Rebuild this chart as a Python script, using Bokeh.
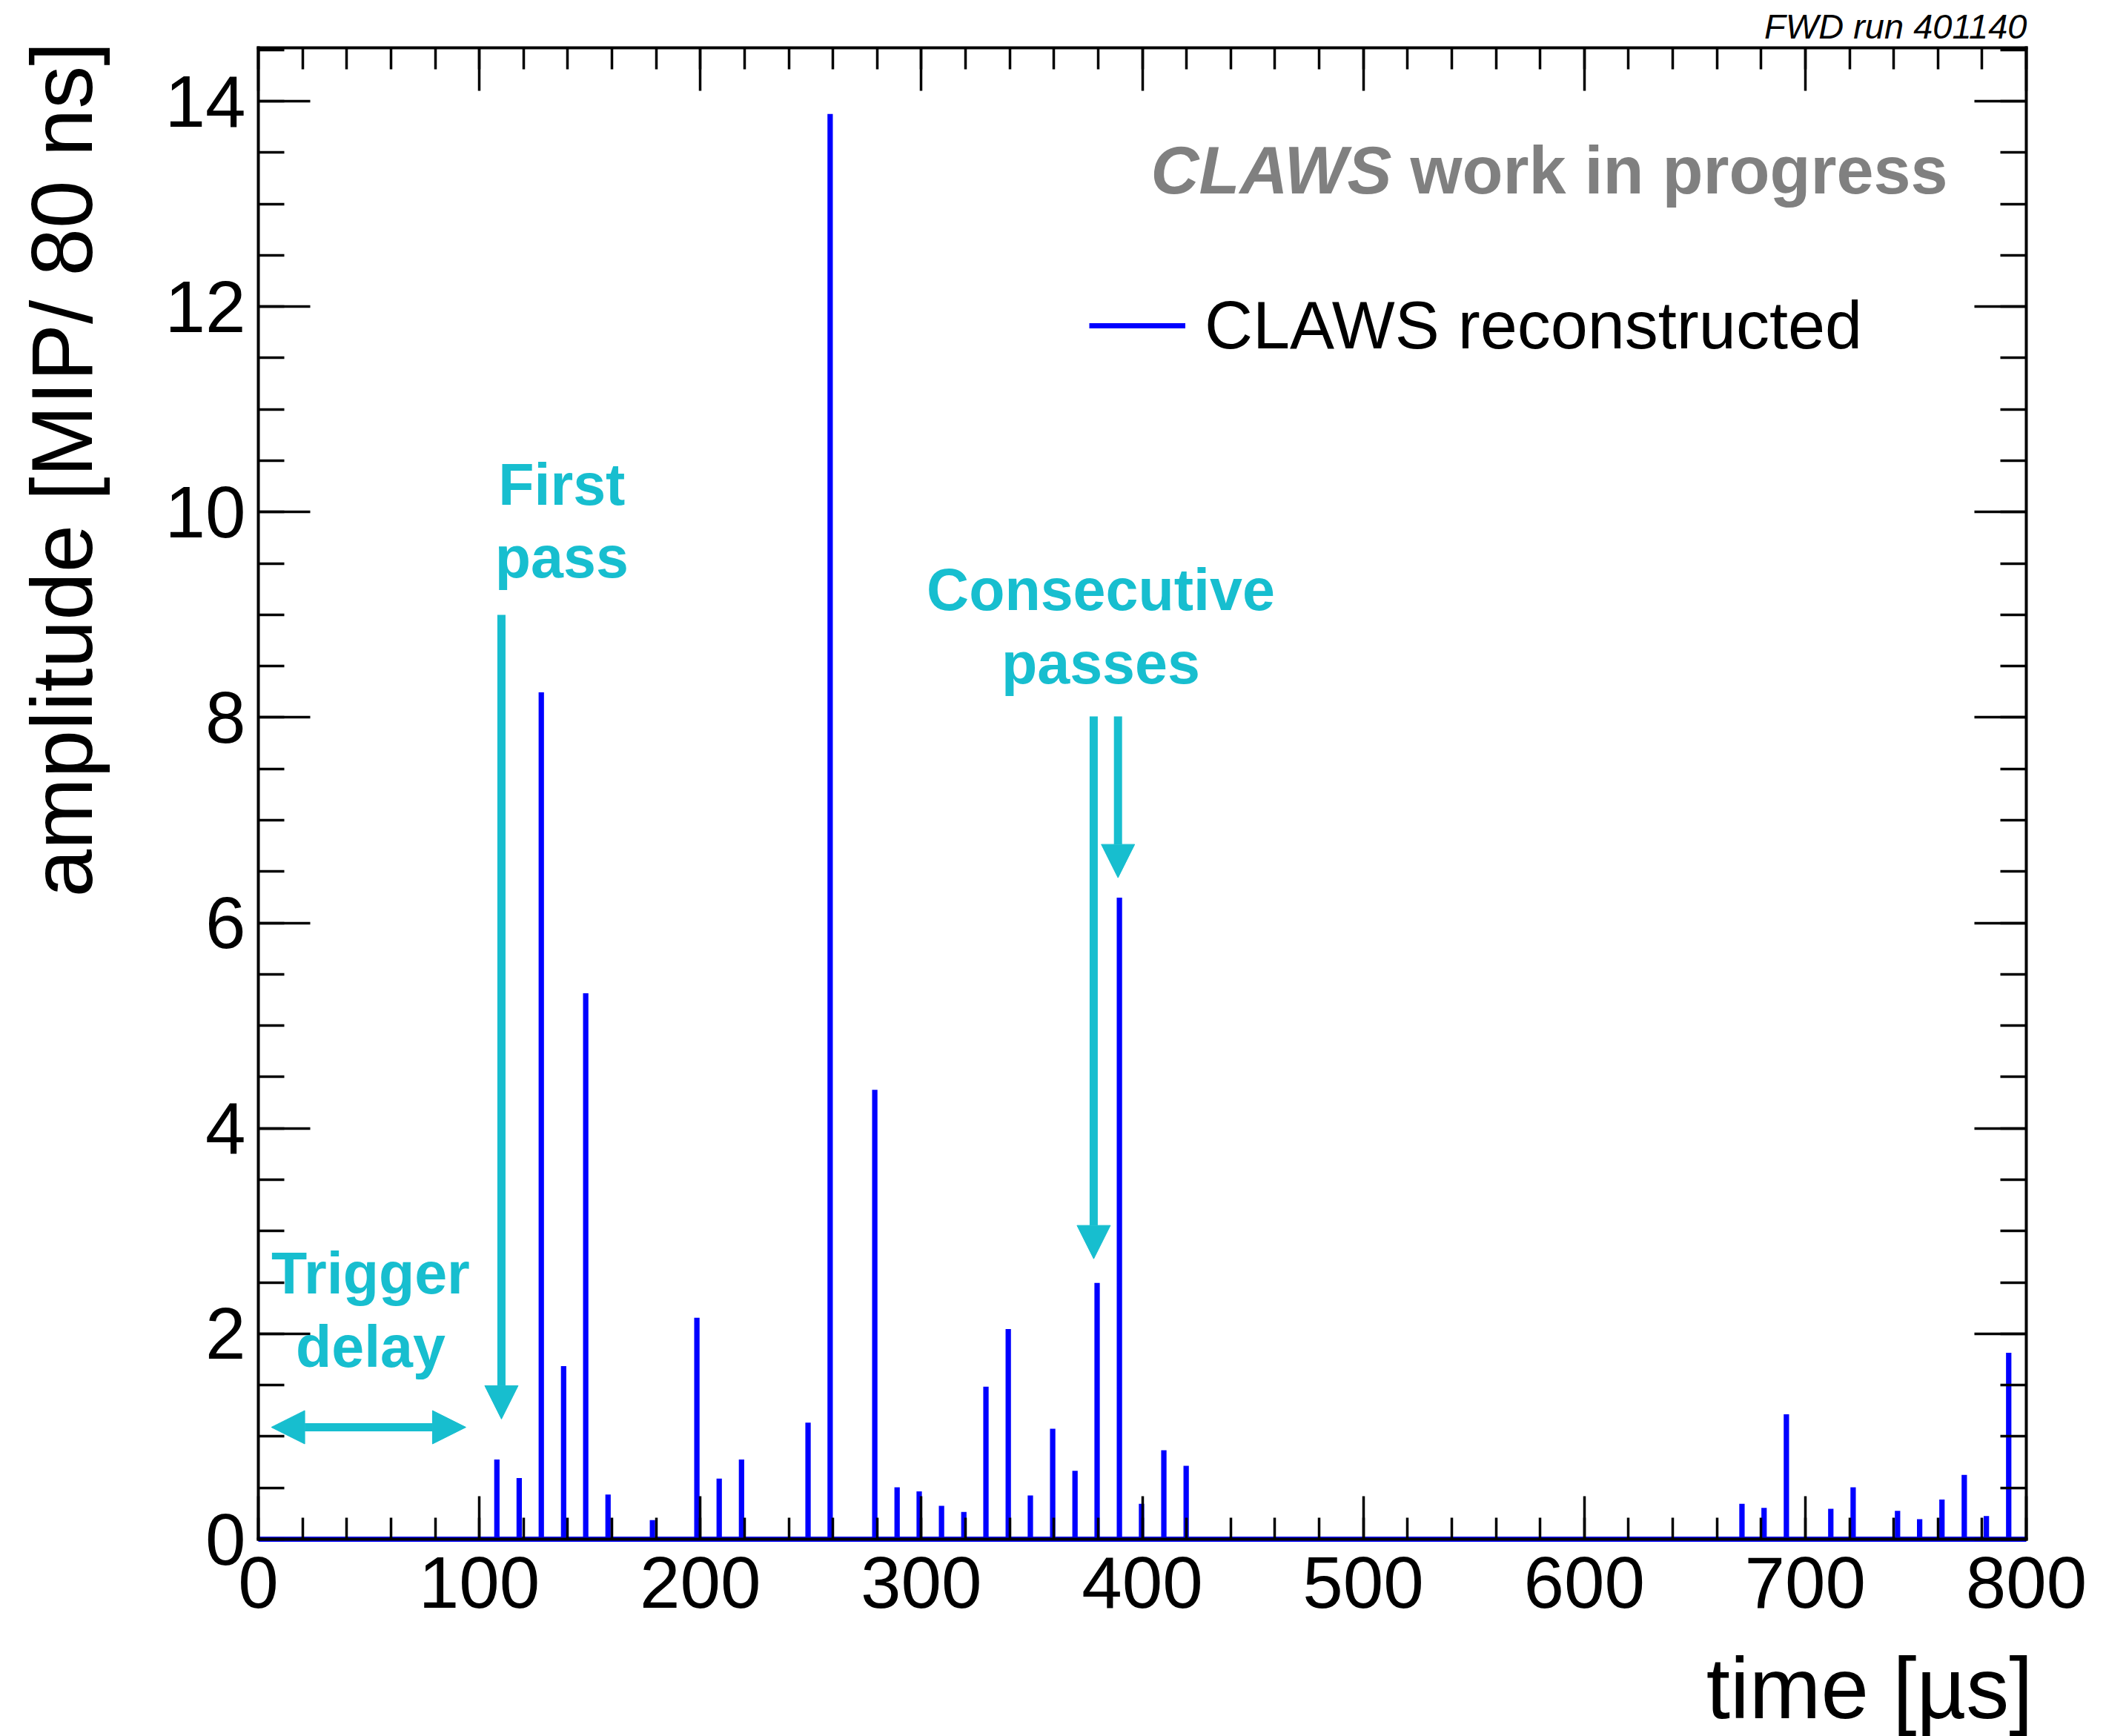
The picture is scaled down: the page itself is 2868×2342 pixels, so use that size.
import numpy as np
from bokeh.plotting import figure
from bokeh.models import (Range1d, LinearAxis, SingleIntervalTicker, Label, Arrow,
                          NormalHead, Legend, LegendItem, ColumnDataSource,
                          CustomJSTickFormatter)
from bokeh.embed import file_html
from bokeh.resources import INLINE

# ---------------- data ----------------
times = [107.9, 118.0, 128.0, 138.1, 148.1, 158.2, 178.3, 198.4, 208.5, 218.6,
         248.7, 258.7, 278.9, 289.0, 299.0, 309.1, 319.2, 329.2, 339.3, 349.3,
         359.4, 369.5, 379.5, 389.6, 399.6, 409.7, 419.8,
         671.3, 681.3, 691.4, 711.5, 721.6, 741.7, 751.7, 761.8, 771.9, 781.9, 792.0]
amplitudes = [0.75, 0.57, 8.22, 1.66, 5.29, 0.41, 0.16, 2.13, 0.565, 0.75,
              1.11, 13.85, 4.35, 0.48, 0.44, 0.30, 0.24, 1.46, 2.02, 0.40,
              1.05, 0.64, 2.47, 6.22, 0.32, 0.84, 0.69,
              0.32, 0.28, 1.19, 0.27, 0.48, 0.25, 0.17, 0.36, 0.60, 0.20, 1.79]
bin_width = 0.08          # 80 ns bins
x_min, x_max = 0, 800
y_min, y_max = 0, 14.52
series_label = "CLAWS reconstructed"
x_title = "time [µs]"
y_title = "amplitude [MIP/ 80 ns]"
run_label = "FWD run 401140"

# step-histogram outline built from the bins
hx = [x_min]
hy = [0.0]
for t, a in zip(times, amplitudes):
    hx += [t, t, t + bin_width, t + bin_width]
    hy += [0.0, a, a, 0.0]
hx.append(x_max)
hy.append(0.0)

FONT = "Liberation Sans"
CYAN = "#17becf"
BLUE = "#0000ff"

# canvas and the pixel box of the axes frame
W, H = 2868, 2342
FL, FR, FT, FB = 348, 2733, 64, 2076
ppx = (FR - FL) / (x_max - x_min)
ppy = (FB - FT) / (y_max - y_min)
X_LO = x_min - FL / ppx
X_HI = x_max + (W - FR) / ppx
Y_LO = y_min - (H - FB) / ppy
Y_HI = y_max + FT / ppy

p = figure(width=W, height=H, x_range=Range1d(X_LO, X_HI), y_range=Range1d(Y_LO, Y_HI),
           output_backend="svg", toolbar_location=None, min_border=0)
p.grid.visible = False
p.outline_line_color = None
p.background_fill_color = "white"
p.border_fill_color = "white"

src = ColumnDataSource(dict(x=hx, y=hy))
hist = p.line("x", "y", source=src, line_color=BLUE, line_width=7, line_join="miter")

def style(ax, ticker, major_len, minor_len, loc, bounds, labels=True):
    ax.ticker = ticker
    ax.fixed_location = loc
    ax.bounds = bounds
    ax.axis_line_width = 4
    ax.axis_line_cap = "square"
    ax.axis_line_color = "black"
    ax.major_tick_line_width = 3.5
    ax.minor_tick_line_width = 3.5
    ax.major_tick_in = major_len
    ax.major_tick_out = 0
    ax.minor_tick_in = minor_len
    ax.minor_tick_out = 0
    ax.major_label_text_font = FONT
    ax.major_label_text_color = "black"
    if labels:
        ax.major_label_text_font_size = "98px"
    else:
        ax.formatter = CustomJSTickFormatter(code="return ''")
        ax.major_label_text_font_size = "2px"
        ax.major_label_standoff = 0

bx = p.xaxis[0]
style(bx, SingleIntervalTicker(interval=100, num_minor_ticks=5), 58, 29, y_min, (x_min, x_max))
bx.major_label_standoff = 24

ly = p.yaxis[0]
style(ly, SingleIntervalTicker(interval=2, num_minor_ticks=4), 70, 35, x_min, (y_min, y_max))
ly.major_label_standoff = 17

top = LinearAxis()
style(top, SingleIntervalTicker(interval=100, num_minor_ticks=5), 58, 29, y_max, (x_min, x_max),
      labels=False)
p.add_layout(top, "above")
right = LinearAxis()
style(right, SingleIntervalTicker(interval=2, num_minor_ticks=4), 70, 35, x_max, (y_min, y_max),
      labels=False)
p.add_layout(right, "right")

def dx(px):
    return x_min + (px - FL) / ppx

def dy(py):
    return y_min + (FB - py) / ppy

# axis titles and run info (ROOT style: aligned to the axis ends)
p.add_layout(Label(x=dx(2742), y=dy(2277), text=x_title, text_align="right",
                   text_baseline="middle", text_font=FONT, text_font_size="116px",
                   text_color="black"))
p.add_layout(Label(x=dx(83), y=dy(56), text=y_title, text_align="right", angle=np.pi / 2,
                   text_baseline="middle", text_font=FONT, text_font_size="116px",
                   text_color="black"))
p.add_layout(Label(x=dx(2734), y=dy(35.4), text=run_label, text_align="right",
                   text_baseline="middle", text_font=FONT, text_font_size="47px",
                   text_font_style="italic", text_color="black"))

# work in progress
p.add_layout(Label(x=764.5, y=13.326, text="work in progress", text_align="right",
                   text_baseline="middle", text_font=FONT, text_font_size="90px",
                   text_font_style="bold", text_color="#808080"))
p.add_layout(Label(x=512.9, y=13.326, text="CLAWS", text_align="right",
                   text_baseline="middle", text_font=FONT, text_font_size="90px",
                   text_font_style="bold italic", text_color="#808080"))

# legend (location is relative to the bottom-left of the canvas-wide frame)
legend = Legend(items=[LegendItem(label=series_label, renderers=[hist])],
                location=(1469, H - 491), glyph_width=130, glyph_height=104, label_height=104,
                label_standoff=26, padding=0, margin=0, spacing=0,
                label_text_font=FONT, label_text_font_size="90px", label_text_color="black",
                border_line_alpha=0, background_fill_alpha=0)
p.add_layout(legend)

# cyan annotations
def ctext(x, y, t):
    p.add_layout(Label(x=x, y=y, text=t, text_align="center", text_baseline="middle",
                       text_font=FONT, text_font_size="79px", text_font_style="bold",
                       text_color=CYAN))

ctext(137.3, 10.267, "First")
ctext(137.3, 9.560, "pass")
ctext(381.2, 9.247, "Consecutive")
ctext(381.2, 8.533, "passes")
ctext(50.8, 2.590, "Trigger")
ctext(50.8, 1.876, "delay")

def head():
    return NormalHead(size=45, fill_color=CYAN, line_color=CYAN, line_width=1)

p.add_layout(Arrow(end=head(), x_start=110.0, y_start=9.0, x_end=110.0, y_end=1.17,
                   line_color=CYAN, line_width=11))
p.add_layout(Arrow(end=head(), x_start=378.0, y_start=8.01, x_end=378.0, y_end=2.73,
                   line_color=CYAN, line_width=11))
p.add_layout(Arrow(end=head(), x_start=389.0, y_start=8.01, x_end=389.0, y_end=6.44,
                   line_color=CYAN, line_width=11))
p.add_layout(Arrow(start=head(), end=head(), x_start=5.9, y_start=1.09, x_end=93.9, y_end=1.09,
                   line_color=CYAN, line_width=11))

open("out.html", "w").write(file_html(p, INLINE))
